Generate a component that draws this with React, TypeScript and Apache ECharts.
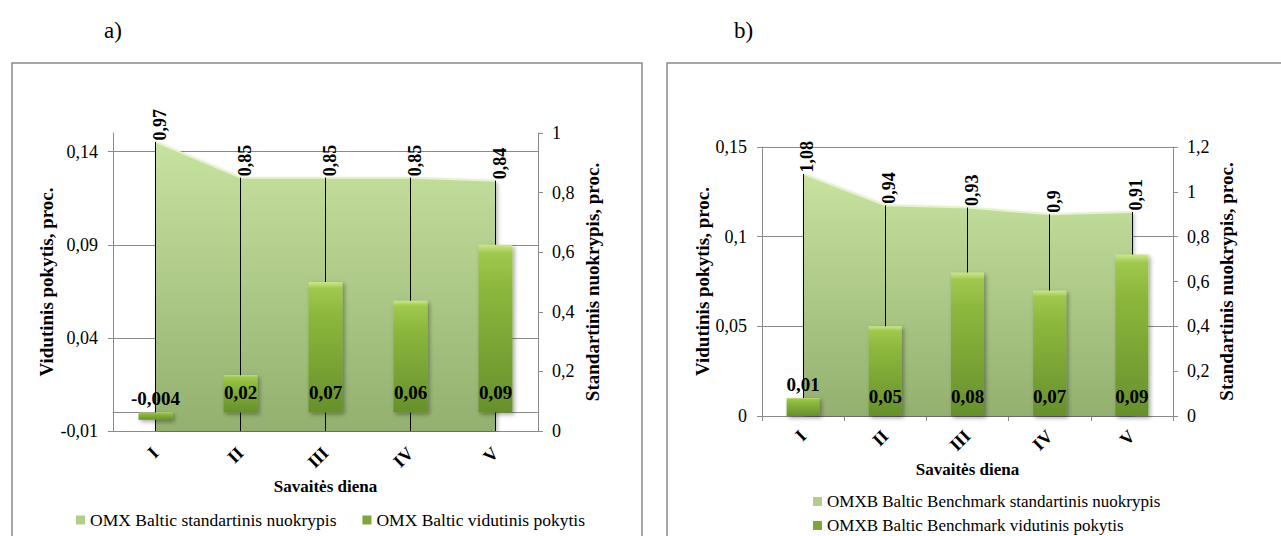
import React, { useEffect, useRef } from 'react';
import * as echarts from 'echarts';

const categories = ['I', 'II', 'III', 'IV', 'V'];
const stdA = [0.97, 0.85, 0.85, 0.85, 0.84];
const meanA = [-0.004, 0.02, 0.07, 0.06, 0.09];
const stdB = [1.08, 0.94, 0.93, 0.9, 0.91];
const meanB = [0.01, 0.05, 0.08, 0.07, 0.09];
const leftTicksA = [-0.01, 0.04, 0.09, 0.14];
const leftTicksB = [0, 0.05, 0.1, 0.15];
const nameStdA = 'OMX Baltic standartinis nuokrypis';
const nameMeanA = 'OMX Baltic vidutinis pokytis';
const nameStdB = 'OMXB Baltic Benchmark standartinis nuokrypis';
const nameMeanB = 'OMXB Baltic Benchmark vidutinis pokytis';
const yNameLeft = 'Vidutinis pokytis, proc.';
const yNameRight = 'Standartinis nuokrypis, proc.';
const xName = 'Savaitės diena';

const FONT = 'serif';
const GRAY = '#8a8a8a';

const fmt = (v: number) => String(Number(Number(v).toFixed(4))).replace('.', ',');

const areaGradient = () =>
  new echarts.graphic.LinearGradient(0, 0, 0, 1, [
    { offset: 0, color: '#c8e2a0' },
    { offset: 1, color: '#93b06f' },
  ]);
const barGradient = () =>
  new echarts.graphic.LinearGradient(0, 0, 0, 1, [
    { offset: 0, color: '#cbe68c' },
    { offset: 0.05, color: '#9fc84e' },
    { offset: 0.25, color: '#8cb83d' },
    { offset: 1, color: '#67902c' },
  ]);

function catAxisLine(grid: number, zeroIdx: number) {
  return {
    gridIndex: grid,
    type: 'category',
    data: categories,
    position: 'bottom',
    boundaryGap: true,
    axisLine: { show: true, onZero: true, onZeroAxisIndex: zeroIdx, lineStyle: { color: GRAY, width: 1 } },
    axisTick: { show: true, length: 5, lineStyle: { color: GRAY } },
    axisLabel: { show: false },
    splitLine: { show: false },
  };
}
function catAxisLabels(grid: number, margin: number, nameGap: number) {
  return {
    gridIndex: grid,
    type: 'category',
    data: categories,
    position: 'bottom',
    boundaryGap: true,
    axisLine: { show: false, onZero: false },
    axisTick: { show: false },
    axisLabel: { rotate: 45, margin, fontWeight: 'bold', fontSize: 18, fontFamily: FONT, color: '#000' },
    splitLine: { show: false },
    name: xName,
    nameLocation: 'middle',
    nameGap,
    nameTextStyle: { fontWeight: 'bold', fontSize: 17, fontFamily: FONT, color: '#000' },
  };
}
function leftAxis(grid: number, min: number, max: number, ticks: number[], nameGap: number) {
  return {
    gridIndex: grid,
    type: 'value',
    position: 'left',
    min,
    max,
    axisLine: { show: true, lineStyle: { color: GRAY } },
    axisTick: { show: true, length: 5, customValues: ticks, lineStyle: { color: GRAY } },
    axisLabel: { customValues: ticks, formatter: fmt, fontSize: 18, fontFamily: FONT, color: '#000', margin: 15 },
    splitLine: { show: true, lineStyle: { color: GRAY, width: 1 } },
    name: yNameLeft,
    nameLocation: 'middle',
    nameRotate: 90,
    nameGap,
    nameTextStyle: { fontWeight: 'bold', fontSize: 19, fontFamily: FONT, color: '#000' },
  };
}
function rightAxis(grid: number, max: number, nameGap: number) {
  return {
    gridIndex: grid,
    type: 'value',
    position: 'right',
    min: 0,
    max,
    interval: 0.2,
    axisLine: { show: true, lineStyle: { color: GRAY } },
    axisTick: { show: true, length: 5, lineStyle: { color: GRAY } },
    axisLabel: { formatter: fmt, fontSize: 18, fontFamily: FONT, color: '#000', margin: 14 },
    splitLine: { show: false },
    name: yNameRight,
    nameLocation: 'middle',
    nameRotate: 90,
    nameGap,
    nameTextStyle: { fontWeight: 'bold', fontSize: 19, fontFamily: FONT, color: '#000' },
  };
}
function areaSeries(name: string, data: number[], xi: number, yi: number) {
  return {
    name,
    type: 'line',
    xAxisIndex: xi,
    yAxisIndex: yi,
    data,
    symbol: 'circle',
    symbolSize: 1,
    showSymbol: true,
    itemStyle: { color: 'rgba(0,0,0,0)' },
    lineStyle: { color: '#e4f3cb', width: 2 },
    areaStyle: {
      color: areaGradient(),
      opacity: 1,
      shadowBlur: 4,
      shadowColor: 'rgba(0,0,0,0.3)',
      shadowOffsetX: 2,
      shadowOffsetY: 2,
    },
    label: {
      show: true,
      position: 'top',
      rotate: 90,
      align: 'left',
      verticalAlign: 'middle',
      distance: 1,
      offset: [0, 4],
      formatter: (p: any) => fmt(p.value),
      fontWeight: 'bold',
      fontSize: 18,
      fontFamily: FONT,
      color: '#000',
    },
    markLine: {
      silent: true,
      z: 2,
      symbol: ['none', 'none'],
      label: { show: false },
      lineStyle: { color: '#000', width: 1, type: 'solid' },
      data: data.map((v, i) => [{ coord: [categories[i], v] }, { coord: [categories[i], 0] }]),
    },
    z: 1,
  };
}
function barSeries(name: string, data: number[], xi: number, yi: number, width: number) {
  return {
    name,
    type: 'bar',
    xAxisIndex: xi,
    yAxisIndex: yi,
    barWidth: width,
    data: data.map((v) => ({
      value: v,
      label: Math.abs(v) < 0.015 ? { position: 'top', distance: 4 } : { position: 'insideBottom', distance: 10 },
    })),
    itemStyle: {
      color: barGradient(),
      shadowBlur: 4,
      shadowColor: 'rgba(0,0,0,0.35)',
      shadowOffsetX: 2,
      shadowOffsetY: 2,
    },
    label: {
      show: true,
      formatter: (p: any) => fmt(p.value),
      fontWeight: 'bold',
      fontSize: 19,
      fontFamily: FONT,
      color: '#000',
    },
    z: 3,
  };
}

export default function App() {
  const ref = useRef<HTMLDivElement>(null);
  useEffect(() => {
    if (!ref.current) return;
    const chart = echarts.init(ref.current, undefined, { renderer: 'svg' });
    const legendText = { fontFamily: FONT, fontSize: 17.5, color: '#000' };
    const legendTextB = { fontFamily: FONT, fontSize: 17, color: '#000', lineHeight: 17 };
    const option: any = {
      animation: false,
      backgroundColor: '#fff',
      textStyle: { fontFamily: FONT },
      grid: [
        { left: 113, top: 133, width: 425, height: 298, containLabel: false },
        { left: 762, top: 147, width: 411, height: 269, containLabel: false },
      ],
      xAxis: [
        catAxisLine(0, 0),
        catAxisLabels(0, 19, 37),
        catAxisLine(1, 2),
        catAxisLabels(1, 17, 43),
      ],
      yAxis: [
        leftAxis(0, -0.01, 0.15, leftTicksA, 57),
        rightAxis(0, 1, 45),
        leftAxis(1, 0, 0.15, leftTicksB, 45),
        rightAxis(1, 1.2, 44),
      ],
      legend: [
        {
          left: 76,
          top: 511,
          padding: 0,
          icon: 'rect',
          itemWidth: 9,
          itemHeight: 9,
          itemGap: 26,
          textStyle: legendText,
          data: [
            { name: nameStdA, itemStyle: { color: '#b3ce8c' } },
            { name: nameMeanA, itemStyle: { color: '#7ea63a' } },
          ],
        },
        {
          left: 813,
          top: 493,
          padding: 0,
          orient: 'vertical',
          height: 43,
          icon: 'rect',
          itemWidth: 9,
          itemHeight: 9,
          itemGap: 7,
          textStyle: legendTextB,
          data: [
            { name: nameStdB, itemStyle: { color: '#b3ce8c' } },
            { name: nameMeanB, itemStyle: { color: '#7ea63a' } },
          ],
        },
      ],
      graphic: [
        { type: 'rect', shape: { x: 12, y: 63, width: 630, height: 520 }, style: { fill: 'none', stroke: GRAY, lineWidth: 1.5 }, silent: true },
        { type: 'rect', shape: { x: 667, y: 63, width: 630, height: 520 }, style: { fill: 'none', stroke: GRAY, lineWidth: 1.5 }, silent: true },
        { type: 'text', left: 104, top: 19, style: { text: 'a)', fontSize: 23, fontFamily: FONT, fill: '#000' } },
        { type: 'text', left: 734, top: 19, style: { text: 'b)', fontSize: 23, fontFamily: FONT, fill: '#000' } },
      ],
      series: [
        areaSeries(nameStdA, stdA, 1, 1),
        barSeries(nameMeanA, meanA, 0, 0, 34),
        areaSeries(nameStdB, stdB, 3, 3),
        barSeries(nameMeanB, meanB, 2, 2, 33),
      ],
    };
    chart.setOption(option);
    return () => chart.dispose();
  }, []);
  return <div ref={ref} style={{ position: 'absolute', left: 0, top: 0, width: 1281, height: 536 }} />;
}
